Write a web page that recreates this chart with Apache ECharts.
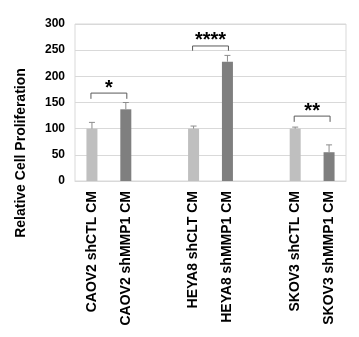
<!DOCTYPE html>
<html>
<head>
<meta charset="utf-8">
<script src="https://cdn.jsdelivr.net/npm/echarts@6/dist/echarts.min.js"></script>
<style>html,body{margin:0;padding:0;background:#fff;}#c{width:359px;height:337px;}</style>
</head>
<body>
<div id="c"></div>
<script>
const categories = ['CAOV2 shCTL CM','CAOV2 shMMP1 CM','','HEYA8 shCLT CM','HEYA8 shMMP1 CM','','SKOV3 shCTL CM','SKOV3 shMMP1 CM'];
const values = [100, 137, null, 100, 228, null, 100, 55];
const errors = [12, 13, null, 5, 12, null, 3, 14];
const barKinds = ['ctl','mmp','','ctl','mmp','','ctl','mmp'];
const yTicks = [0, 50, 100, 150, 200, 250, 300];
// brackets: [startIdx, endIdx, topValue, tickBottomValue, label]
const brackets = [
  [0, 1, 168, 157, '*'],
  [3, 4, 258, 249, '****'],
  [6, 7, 124, 113, '**']
];
const colors = {ctl: '#bfbfbf', mmp: '#7f7f7f'};
const FONT = '"Liberation Sans", Arial, sans-serif';

const chart = echarts.init(document.getElementById('c'), null, {renderer: 'canvas'});
const barData = values.map((v, i) => v == null ? null : {value: v, itemStyle: {color: colors[barKinds[i]]}});
const errData = values.map((v, i) => v == null ? null : [i, v, v + errors[i]]).filter(d => d);

chart.setOption({
  animation: false,
  grid: {left: 75, right: 13, top: 24, bottom: 156, show: true, borderColor: '#d9d9d9', borderWidth: 1},
  graphic: [{
    type: 'text', x: 21, y: 153, rotation: Math.PI / 2,
    style: {text: 'Relative Cell Proliferation', font: 'bold 14px ' + FONT, fill: '#000', align: 'center', verticalAlign: 'middle'}
  }],
  xAxis: {
    type: 'category', data: categories,
    axisLine: {lineStyle: {color: '#d9d9d9'}},
    axisTick: {show: false},
    axisLabel: {rotate: 90, interval: 0, margin: 10, color: '#000', fontWeight: 'bold', fontSize: 14, fontFamily: FONT}
  },
  yAxis: {
    type: 'value', min: 0, max: 300, interval: 50,
    axisLine: {show: false}, axisTick: {show: false},
    splitLine: {lineStyle: {color: '#d9d9d9'}},
    axisLabel: {margin: 10, color: '#000', fontWeight: 'bold', fontSize: 12, fontFamily: FONT,
      formatter: v => yTicks.includes(v) ? String(v) : ''}
  },
  series: [
    {type: 'bar', data: barData, barWidth: 11},
    {
      type: 'custom', data: errData, z: 5,
      renderItem: function (params, api) {
        const x = api.value(0);
        const lo = api.coord([x, api.value(1)]);
        const hi = api.coord([x, api.value(2)]);
        const w = 3;
        return {type: 'group', children: [
          {type: 'line', shape: {x1: lo[0], y1: lo[1], x2: hi[0], y2: hi[1]}, style: {stroke: '#8c8c8c', lineWidth: 1}},
          {type: 'line', shape: {x1: hi[0] - w, y1: hi[1], x2: hi[0] + w, y2: hi[1]}, style: {stroke: '#8c8c8c', lineWidth: 1}}
        ]};
      }
    },
    {
      type: 'custom', data: brackets, z: 6,
      renderItem: function (params, api) {
        const a = api.coord([api.value(0), api.value(2)]);
        const b = api.coord([api.value(1), api.value(2)]);
        const t = api.coord([api.value(0), api.value(3)]);
        const label = brackets[params.dataIndex][4];
        return {type: 'group', children: [
          {type: 'polyline', shape: {points: [[a[0] - 1, t[1]], [a[0] - 1, a[1]], [b[0] + 1, b[1]], [b[0] + 1, t[1]]]}, style: {stroke: '#595959', lineWidth: 1, fill: null}},
          {type: 'text', x: (a[0] + b[0]) / 2, y: a[1] - 5, style: {text: label, font: 'bold 20px ' + FONT, fill: '#000', align: 'center', verticalAlign: 'middle'}}
        ]};
      }
    }
  ]
});
</script>
</body>
</html>
